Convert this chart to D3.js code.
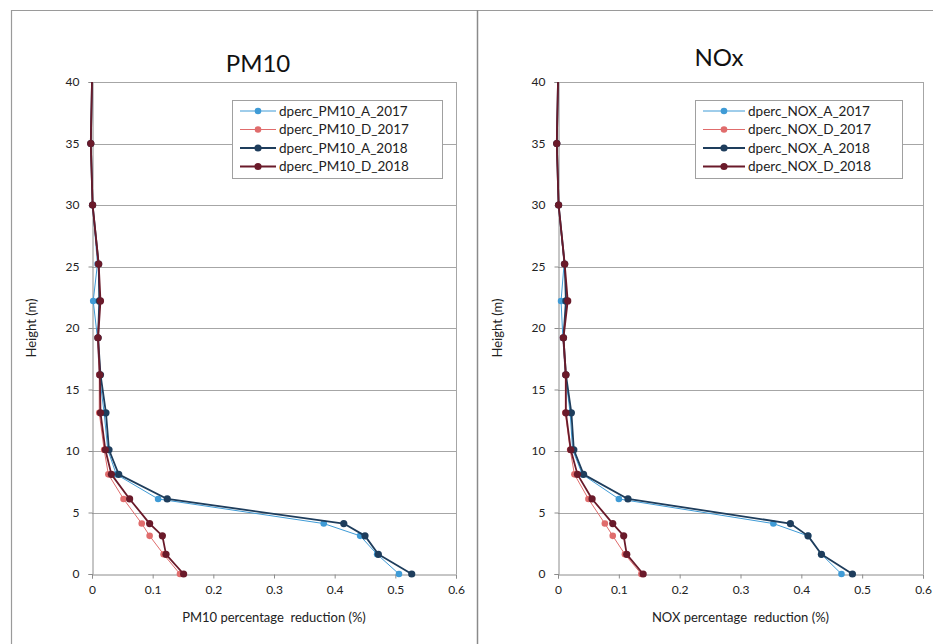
<!DOCTYPE html>
<html><head><meta charset="utf-8">
<script src="https://cdn.jsdelivr.net/npm/d3@7"></script>
<style>
body{margin:0;background:#fff;}
svg{display:block;font-family:Lato,"Open Sans",sans-serif;}
</style></head><body>
<svg id="chart" width="933" height="644"></svg>
<script>
const heights = [0, 1.6, 3.1, 4.1, 6.1, 8.1, 10.1, 13.1, 16.2, 19.2, 22.2, 25.2, 30, 35, 40];

const pm10_A_2017 = [0.506, 0.470, 0.442, 0.382, 0.109, 0.040, 0.026, 0.020, 0.012, 0.009, 0.002, 0.009, 0.001, -0.002, 0];
const pm10_D_2017 = [0.145, 0.118, 0.095, 0.082, 0.052, 0.027, 0.020, 0.012, 0.012, 0.009, 0.013, 0.010, 0.001, -0.002, 0];
const pm10_A_2018 = [0.527, 0.472, 0.450, 0.415, 0.124, 0.044, 0.028, 0.023, 0.014, 0.010, 0.012, 0.011, 0.001, -0.002, 0];
const pm10_D_2018 = [0.151, 0.122, 0.116, 0.095, 0.062, 0.032, 0.022, 0.014, 0.013, 0.010, 0.014, 0.011, 0.001, -0.002, 0];

const nox_A_2017 = [0.466, 0.433, 0.411, 0.354, 0.100, 0.040, 0.024, 0.020, 0.012, 0.008, 0.005, 0.010, 0.001, -0.002, 0];
const nox_D_2017 = [0.137, 0.110, 0.090, 0.077, 0.050, 0.027, 0.020, 0.012, 0.012, 0.008, 0.015, 0.010, 0.001, -0.002, 0];
const nox_A_2018 = [0.484, 0.433, 0.411, 0.382, 0.115, 0.042, 0.026, 0.022, 0.013, 0.009, 0.013, 0.011, 0.001, -0.002, 0];
const nox_D_2018 = [0.140, 0.113, 0.108, 0.090, 0.056, 0.032, 0.021, 0.013, 0.013, 0.009, 0.016, 0.011, 0.001, -0.002, 0];

const xTicks = [0, 0.1, 0.2, 0.3, 0.4, 0.5, 0.6];
const yTicks = [0, 5, 10, 15, 20, 25, 30, 35, 40];

const pm10Names = ["dperc_PM10_A_2017", "dperc_PM10_D_2017", "dperc_PM10_A_2018", "dperc_PM10_D_2018"];
const noxNames = ["dperc_NOX_A_2017", "dperc_NOX_D_2017", "dperc_NOX_A_2018", "dperc_NOX_D_2018"];

const seriesStyle = [
  {color: "#3f9bd6", width: 1, r: 3.3},
  {color: "#e06c6c", width: 1, r: 3.3},
  {color: "#1e3d5c", width: 1.8, r: 3.6},
  {color: "#6a1a2a", width: 1.8, r: 3.6}
];

const svg = d3.select("#chart");
const grid = "#a6a6a6";

// outer frame
svg.append("path").attr("d", "M11.5,644 V10.5 H933").attr("fill", "none").attr("stroke", "#9a9a9a").attr("stroke-width", 1.2);
svg.append("line").attr("x1", 477.5).attr("x2", 477.5).attr("y1", 10).attr("y2", 644).attr("stroke", "#8a8a8a").attr("stroke-width", 1.5);

function panel(cfg) {
  const x = d3.scaleLinear().domain([0, 0.6]).range([cfg.x0, cfg.x1]);
  const y = d3.scaleLinear().domain([0, 40]).range([574, 82]);
  const g = svg.append("g");

  // gridlines
  g.selectAll(".grid").data(yTicks.slice(1)).join("line")
    .attr("x1", cfg.x0).attr("x2", cfg.x1)
    .attr("y1", d => Math.round(y(d)) + 0.5).attr("y2", d => Math.round(y(d)) + 0.5)
    .attr("stroke", grid).attr("stroke-width", 1);
  // right border of plot area
  g.append("line").attr("x1", cfg.x1 + 0.5).attr("x2", cfg.x1 + 0.5).attr("y1", y(40)).attr("y2", y(0))
    .attr("stroke", grid);

  // axes
  const xAxis = d3.axisBottom(x).tickValues(xTicks).tickSize(4).tickPadding(7).tickFormat(d => d === 0 ? "0" : d3.format(".1f")(d));
  const gx = g.append("g").attr("transform", `translate(0,${y(0) + 0.5})`).call(xAxis);
  const yAxis = d3.axisLeft(y).tickValues(yTicks).tickSize(4).tickPadding(9);
  const gy = g.append("g").attr("transform", `translate(${cfg.x0 + 0.5},0)`).call(yAxis);
  [gx, gy].forEach(a => {
    a.select(".domain").attr("stroke", "#8c8c8c");
    a.selectAll(".tick line").attr("stroke", "#8c8c8c");
    a.selectAll(".tick text").attr("fill", "#222").attr("font-size", 12).attr("font-family", "Lato, 'Open Sans', sans-serif");
  });

  // titles
  g.append("text").attr("x", cfg.titleX).attr("y", cfg.titleY).attr("text-anchor", "middle")
    .attr("font-size", 24).attr("fill", "#111").text(cfg.title);
  g.append("text").attr("x", (cfg.x0 + cfg.x1) / 2).attr("y", 622).attr("text-anchor", "middle")
    .attr("font-size", 13).attr("fill", "#222").style("white-space", "pre").text(cfg.xTitle);
  g.append("text").attr("transform", `translate(${cfg.x0 - 56},${y(20)}) rotate(-90)`).attr("text-anchor", "middle")
    .attr("font-size", 13).attr("fill", "#222").text("Height (m)");

  // series
  const line = d3.line().x(d => x(d[0])).y(d => y(d[1]));
  cfg.series.forEach((vals, i) => {
    const st = seriesStyle[i];
    const pts = vals.map((v, k) => [v, heights[k]]);
    g.append("path").datum(pts).attr("d", line).attr("fill", "none")
      .attr("stroke", st.color).attr("stroke-width", st.width).attr("stroke-linejoin", "round");
    g.selectAll(null).data(pts.filter(d => d[1] < 40)).join("circle")
      .attr("cx", d => x(d[0])).attr("cy", d => y(d[1])).attr("r", st.r).attr("fill", st.color);
  });

  // legend
  const lg = g.append("g").attr("transform", `translate(${cfg.legX},${cfg.legY})`);
  lg.append("rect").attr("x", 0.5).attr("y", 0.5).attr("width", cfg.legW).attr("height", 78)
    .attr("fill", "#fff").attr("stroke", "#a0a0a0");
  cfg.names.forEach((n, i) => {
    const st = seriesStyle[i];
    const ry = 11 + i * 18.5;
    lg.append("line").attr("x1", cfg.legL0).attr("x2", cfg.legL1).attr("y1", ry).attr("y2", ry)
      .attr("stroke", st.color).attr("stroke-width", st.width);
    lg.append("circle").attr("cx", (cfg.legL0 + cfg.legL1) / 2).attr("cy", ry).attr("r", st.r).attr("fill", st.color);
    lg.append("text").attr("x", cfg.legL1 + 3).attr("y", ry).attr("dy", "0.35em")
      .attr("font-size", 13.5).attr("fill", "#222").text(n);
  });
}

panel({x0: 92, x1: 456, title: "PM10", titleX: 258, titleY: 72, xTitle: "PM10 percentage  reduction (%)",
  series: [pm10_A_2017, pm10_D_2017, pm10_A_2018, pm10_D_2018], names: pm10Names,
  legX: 232, legY: 100, legW: 210, legL0: 8, legL1: 44});
panel({x0: 558, x1: 923, title: "NOx", titleX: 719, titleY: 66, xTitle: "NOX percentage  reduction (%)",
  series: [nox_A_2017, nox_D_2017, nox_A_2018, nox_D_2018], names: noxNames,
  legX: 695, legY: 100, legW: 207, legL0: 8, legL1: 50});
</script>
</body></html>
